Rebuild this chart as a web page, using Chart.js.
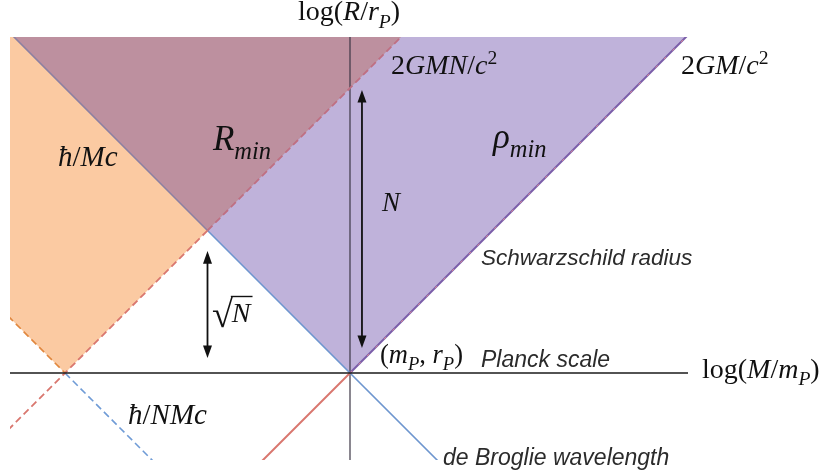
<!DOCTYPE html>
<html>
<head>
<meta charset="utf-8">
<script src="https://cdn.jsdelivr.net/npm/chart.js@4.4.0/dist/chart.umd.min.js"></script>
<style>
  html, body { margin: 0; padding: 0; background: #ffffff; }
  #wrap { width: 822px; height: 475px; position: relative; }
</style>
</head>
<body>
<div id="wrap"><canvas id="diagram"></canvas></div>
<script>
// log N in diagram units (the Planck point sits at the origin)
const logN = 4;

// axis ranges, log(M/mP) and log(R/rP)
const xRange = [-4.772, 4.744];
const yRange = [-1.221, 4.716];

// boundary lines, as [x, y] points
const hbarMcPts = [[-6, 6], [-2, 2], [2, -2]];          // hbar/Mc, de Broglie
const schwarzPts = [[-2, -2], [0, 0], [6, 6]];          // 2GM/c^2
const schwarzUpperPts = [[0, 0], [6, 6]];
const twoGMNPts = [[-6, -2], [-4, 0], [-2, 2], [2, 6]]; // 2GMN/c^2
const hbarNMcPts = [[-6, 2], [-4, 0], [0, -4]];         // hbar/NMc

// lower edges of the shaded regions (filled up to the top)
const orangeEdge = [[-6, 2], [-4, 0], [2, 6]];
const purpleEdge = [[-6, 6], [0, 0], [6, 6]];
const mauveEdge = [[-6, 6], [-2, 2], [2, 6]];

const hAxisPts = [[xRange[0], 0], [xRange[1], 0]];
const vAxisPts = [[0, yRange[0]], [0, yRange[1]]];

// arrows: x, yFrom, yTo
const arrowN = [0.168, 0.35, 3.972];
const arrowSqrtN = [-2.0, 0.21, 1.712];

const colors = {
    orange: '#fbcaa2',
    purple: '#bfb2da',
    mauve: '#bd909f',
    blue: '#6e96cf',
    blueDash: '#6f9bd6',
    grayLine: '#8c80a2',
    red: '#d9776f',
    redDark: '#bf6f82',
    orangeLine: '#e0873e',
    purpleLine: '#7b5ea9',
    pinkDash: '#ef8d8d',
    axis: '#1a1a1a',
    vAxis: 'rgba(60,55,70,0.75)',
    text: '#111111',
    note: '#2b2b2b'
};

const toXY = pts => pts.map(p => ({ x: p[0], y: p[1] }));

function lineSet(pts, color, opts) {
    return Object.assign({
        data: toXY(pts),
        borderColor: color,
        borderWidth: 1.6,
        pointRadius: 0,
        fill: false,
        tension: 0,
        order: 1
    }, opts || {});
}

function regionSet(pts, color, order) {
    return {
        data: toXY(pts),
        borderWidth: 0,
        borderColor: 'rgba(0,0,0,0)',
        backgroundColor: color,
        pointRadius: 0,
        fill: 'end',
        tension: 0,
        order: order
    };
}

// text runs: [text, italic, mode]  mode: '' | 'sub' | 'sup'
const SERIF = '"Liberation Serif", "DejaVu Serif", serif';
const SANS = '"Liberation Sans", Arial, sans-serif';

const labels = [
    { x: -0.73, y: 4.95, size: 28, font: SERIF, runs: [['log(', 0], ['R', 1], ['/', 0], ['r', 1], ['P', 1, 'sub'], [')', 0]] },
    { x: 0.575, y: 4.196, size: 28, font: SERIF, runs: [['2', 0], ['GMN', 1], ['/', 0], ['c', 1], ['2', 0, 'sup']] },
    { x: 4.646, y: 4.196, size: 28, font: SERIF, runs: [['2', 0], ['GM', 1], ['/', 0], ['c', 1], ['2', 0, 'sup']] },
    { x: -1.923, y: 3.13, size: 35, font: SERIF, runs: [['R', 1], ['min', 1, 'sub']] },
    { x: 2.007, y: 3.158, size: 35, font: SERIF, runs: [['ρ', 1], ['min', 1, 'sub']] },
    { x: -4.098, y: 2.905, size: 29, font: SERIF, runs: [['ħ', 1], ['/', 0], ['Mc', 1]] },
    { x: 0.449, y: 2.274, size: 27, font: SERIF, runs: [['N', 1]] },
    { x: 1.839, y: 1.516, size: 22.5, font: SANS, color: colors.note, runs: [['Schwarzschild radius', 1]] },
    { x: 0.421, y: 0.14, size: 26.5, font: SERIF, runs: [['(', 0], ['m', 1], ['P', 1, 'sub'], [', ', 0], ['r', 1], ['P', 1, 'sub'], [')', 0]] },
    { x: 1.839, y: 0.084, size: 23, font: SANS, color: colors.note, runs: [['Planck scale', 1]] },
    { x: 4.94, y: -0.07, size: 28, font: SERIF, runs: [['log(', 0], ['M', 1], ['/', 0], ['m', 1], ['P', 1, 'sub'], [')', 0]] },
    { x: -3.116, y: -0.716, size: 29, font: SERIF, runs: [['ħ', 1], ['/', 0], ['NMc', 1]] },
    { x: 1.305, y: -1.291, size: 23, font: SANS, color: colors.note, runs: [['de Broglie wavelength', 1]] }
];

function drawRuns(ctx, px, py, lab) {
    let cx = px;
    ctx.fillStyle = lab.color || colors.text;
    lab.runs.forEach(r => {
        const [t, it, mode] = r;
        const sz = mode ? lab.size * 0.7 : lab.size;
        ctx.font = (it ? 'italic ' : '') + sz + 'px ' + lab.font;
        let dy = 0;
        if (mode === 'sub') dy = lab.size * 0.26;
        if (mode === 'sup') dy = -lab.size * 0.36;
        ctx.fillText(t, cx, py + dy);
        cx += ctx.measureText(t).width;
    });
}

function drawArrow(ctx, x, y1, y2) {
    const head = 7, half = 4.5;
    ctx.beginPath();
    ctx.moveTo(x, y1 - head + 1);
    ctx.lineTo(x, y2 + head - 1);
    ctx.stroke();
    ctx.beginPath();
    ctx.moveTo(x, y1); ctx.lineTo(x - half, y1 - head * 1.8); ctx.lineTo(x + half, y1 - head * 1.8); ctx.closePath();
    ctx.fill();
    ctx.beginPath();
    ctx.moveTo(x, y2); ctx.lineTo(x - half, y2 + head * 1.8); ctx.lineTo(x + half, y2 + head * 1.8); ctx.closePath();
    ctx.fill();
}

const annotations = {
    id: 'annotations',
    afterDatasetsDraw(chart) {
        const ctx = chart.ctx;
        const xs = chart.scales.x, ys = chart.scales.y;
        ctx.save();
        ctx.fillStyle = colors.text;
        ctx.strokeStyle = colors.text;
        ctx.lineWidth = 1.8;
        ctx.textBaseline = 'alphabetic';
        ctx.textAlign = 'left';

        [arrowN, arrowSqrtN].forEach(a => {
            drawArrow(ctx, xs.getPixelForValue(a[0]), ys.getPixelForValue(a[1]), ys.getPixelForValue(a[2]));
        });

        labels.forEach(lab => {
            drawRuns(ctx, xs.getPixelForValue(lab.x), ys.getPixelForValue(lab.y), lab);
        });

        // square root of N
        ctx.fillStyle = colors.text;
        const sx = xs.getPixelForValue(-1.923), sy = ys.getPixelForValue(0.716);
        ctx.font = '38px ' + SERIF;
        ctx.fillText('√', sx - 1, sy + 5);
        const rw = ctx.measureText('√').width;
        ctx.font = 'italic 28px ' + SERIF;
        const nw = ctx.measureText('N').width;
        ctx.fillText('N', sx + rw - 2, sy);
        ctx.lineWidth = 1.4;
        ctx.beginPath();
        ctx.moveTo(sx + rw - 3, sy - 25.5);
        ctx.lineTo(sx + rw + nw, sy - 25.5);
        ctx.stroke();
        ctx.restore();
    }
};

new Chart(document.getElementById('diagram'), {
    type: 'line',
    data: {
        datasets: [
            regionSet(orangeEdge, colors.orange, 10),
            regionSet(purpleEdge, colors.purple, 9),
            regionSet(mauveEdge, colors.mauve, 8),
            lineSet(vAxisPts, colors.vAxis, { order: 7, borderWidth: 1.6 }),
            lineSet(hbarMcPts, colors.blue, {
                order: 6,
                segment: { borderColor: c => c.p0DataIndex === 0 ? colors.grayLine : colors.blue }
            }),
            lineSet(hbarNMcPts, colors.blueDash, {
                order: 5, borderDash: [7, 4],
                segment: { borderColor: c => c.p0DataIndex === 0 ? colors.orangeLine : colors.blueDash }
            }),
            lineSet(twoGMNPts, colors.red, {
                order: 4, borderDash: [7, 4], borderWidth: 1.8,
                segment: { borderColor: c => c.p0DataIndex === 2 ? colors.redDark : colors.red }
            }),
            lineSet(schwarzPts, colors.red, {
                order: 3, borderWidth: 2,
                segment: { borderColor: c => c.p0DataIndex === 0 ? colors.red : colors.purpleLine }
            }),
            lineSet(schwarzUpperPts, colors.pinkDash, { order: 2, borderWidth: 0.8, borderDash: [3, 9] }),
            lineSet(hAxisPts, colors.axis, { order: 0, borderWidth: 1.4 })
        ]
    },
    options: {
        responsive: true,
        maintainAspectRatio: false,
        animation: false,
        layout: { padding: { left: 10, right: 134, top: 37, bottom: 15 } },
        plugins: {
            legend: { display: false },
            tooltip: { enabled: false },
            filler: { drawTime: 'beforeDatasetDraw' }
        },
        scales: {
            x: { type: 'linear', display: false, min: xRange[0], max: xRange[1] },
            y: { type: 'linear', display: false, min: yRange[0], max: yRange[1] }
        }
    },
    plugins: [annotations]
});
</script>
</body>
</html>
